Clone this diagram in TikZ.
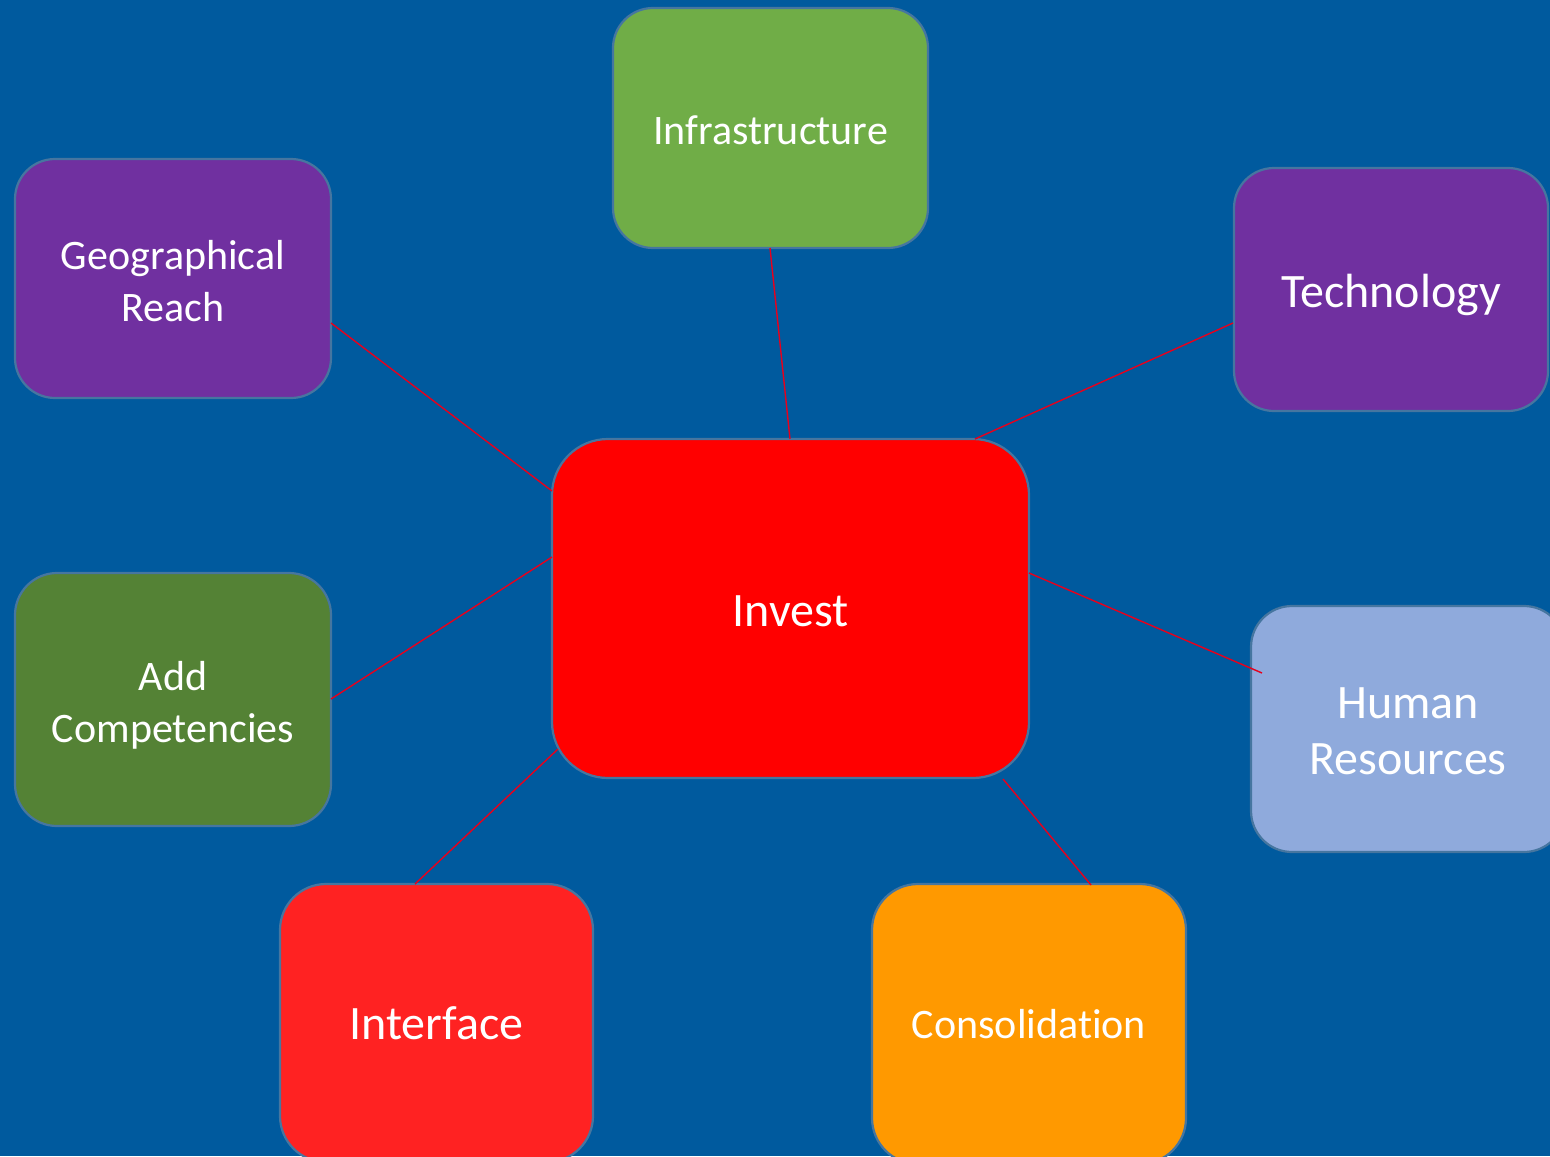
\documentclass[tikz,border=0pt]{standalone}
\usepackage{fontspec}
\setmainfont{Carlito}[Ligatures=NoCommon]
\usetikzlibrary{calc}
\definecolor{bgblue}{RGB}{0,90,158}
\definecolor{edgeblue}{RGB}{70,118,160}
\definecolor{cinfra}{HTML}{70AD47}
\definecolor{cpurple}{HTML}{7030A0}
\definecolor{cinvest}{HTML}{FF0000}
\definecolor{caddc}{HTML}{548235}
\definecolor{chr}{HTML}{8FAADC}
\definecolor{cinterface}{HTML}{FF2222}
\definecolor{ccons}{HTML}{FF9900}
\definecolor{cline}{HTML}{E8001C}
\tikzset{
  box/.style={rectangle, draw=edgeblue, line width=1.1pt, inner sep=0pt, outer sep=0pt},
  lbl/.style={align=center, text=white, inner sep=0pt},
  smalltxt/.style={lbl, font=\fontsize{21}{26}\selectfont},
  bigtxt/.style={lbl, font=\fontsize{24}{28}\selectfont},
  conn/.style={draw=cline, line width=0.7pt}
}
\begin{document}
\begin{tikzpicture}[x=0.5pt,y=-0.5pt]
\fill[bgblue] (0,0) rectangle (1550,1156);
\useasboundingbox (0,0) rectangle (1550,1156);
\begin{scope}
\clip (0,0) rectangle (1550,1156);
\node[box, fill=cinfra, minimum width=157.5pt, minimum height=120pt, rounded corners=20pt,
  label={[smalltxt, yshift=-1pt]center:Infrastructure}] (infra) at (770.5,128) {};
\node[box, fill=cpurple, minimum width=158pt, minimum height=119.5pt, rounded corners=20pt,
  label={[smalltxt, yshift=-1.5pt]center:{Geographical\\Reach}}] (geo) at (173,278.5) {};
\node[box, fill=cpurple, minimum width=157pt, minimum height=121.5pt, rounded corners=20pt,
  label={[bigtxt, yshift=-2.5pt]center:Technology}] (tech) at (1391,289.5) {};
\node[box, fill=cinvest, minimum width=238.5pt, minimum height=169.5pt, rounded corners=28pt,
  label={[bigtxt, yshift=-1.5pt]center:Invest}] (invest) at (790.5,608.5) {};
\node[box, fill=caddc, minimum width=158pt, minimum height=126.5pt, rounded corners=21pt,
  label={[smalltxt, yshift=-2.75pt]center:{Add\\Competencies}}] (addc) at (173,699.5) {};
\node[box, fill=chr, minimum width=157pt, minimum height=123pt, rounded corners=20.5pt,
  label={[bigtxt, yshift=-1.25pt]center:{Human\\Resources}}] (hr) at (1408,729) {};
\node[box, fill=cinterface, minimum width=156.5pt, minimum height=139pt, rounded corners=23pt,
  label={[bigtxt]center:Interface}] (interface) at (436.5,1023) {};
\node[box, fill=ccons, minimum width=157pt, minimum height=140pt, rounded corners=23pt,
  label={[smalltxt]center:Consolidation}] (cons) at (1029,1024) {};

\draw[conn] ($(infra.center)+(-0.5,120)$) -- ($(invest.center)+(-0.5,-169.5)$);
\draw[conn] ($(geo.center)+(158,44.5)$) -- ($(invest.center)+(-238.5,-117.5)$);
\draw[conn] ($(tech.center)+(-158,33.5)$) -- ($(invest.center)+(184.5,-169.5)$);
\draw[conn] ($(addc.center)+(158,-0.5)$) -- ($(invest.center)+(-238.5,-51.5)$);
\draw[conn] ($(hr.center)+(-146,-56)$) -- ($(invest.center)+(238.5,-35.5)$);
\draw[conn] ($(interface.center)+(-21.5,-139)$) -- ($(invest.center)+(-232.5,140.5)$);
\draw[conn] ($(cons.center)+(62,-139)$) -- ($(invest.center)+(212.5,170.5)$);
\end{scope}
\end{tikzpicture}
\end{document}
